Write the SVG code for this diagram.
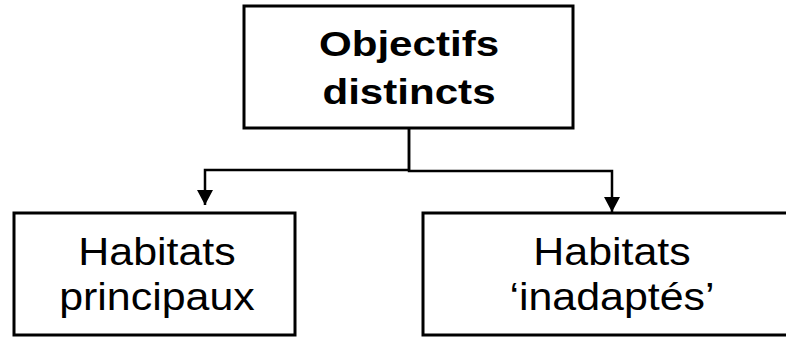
<svg xmlns="http://www.w3.org/2000/svg" width="786" height="338" viewBox="0 0 786 338">
  <style>
    .box { fill: #ffffff; stroke: #000000; stroke-width: 3; }
    .wire { fill: none; stroke: #000000; stroke-width: 2.5; }
    .title { font-family: "Liberation Sans", Arial, sans-serif; font-weight: bold; font-size: 36px; fill: #000000; text-anchor: middle; }
    .label { font-family: "Liberation Sans", Arial, sans-serif; font-size: 38px; fill: #000000; text-anchor: middle; }
  </style>
  <defs>
    <marker id="arrow" markerUnits="userSpaceOnUse" markerWidth="16" markerHeight="16" refX="15" refY="8" orient="auto">
      <path d="M0,0 L15,8 L0,16 Z" fill="#000000"/>
    </marker>
  </defs>
  <rect x="0" y="0" width="786" height="338" fill="#ffffff"/>

  <g id="connectors">
    <path class="wire" d="M409,128 L409,170 L205,170 L205,205" marker-end="url(#arrow)"/>
    <path class="wire" d="M409,128 L409,171 L612,171 L612,212" marker-end="url(#arrow)"/>
  </g>

  <g id="objectifs">
    <rect class="box" x="244" y="6" width="329" height="122"/>
    <g transform="translate(409,0) scale(1.17,1)">
      <text class="title" x="0" y="56">Objectifs</text>
      <text class="title" x="0" y="104">distincts</text>
    </g>
  </g>

  <g id="habitats-principaux">
    <rect class="box" x="14" y="213" width="281" height="122"/>
    <g transform="translate(157,0) scale(1.13,1)">
      <text class="label" x="0" y="265">Habitats</text>
      <text class="label" x="0" y="310">principaux</text>
    </g>
  </g>

  <g id="habitats-inadaptes">
    <rect class="box" x="423" y="213" width="380" height="122"/>
    <g transform="translate(612,0) scale(1.13,1)">
      <text class="label" x="0" y="265">Habitats</text>
      <text class="label" x="0" y="310">‘inadaptés’</text>
    </g>
  </g>
</svg>
